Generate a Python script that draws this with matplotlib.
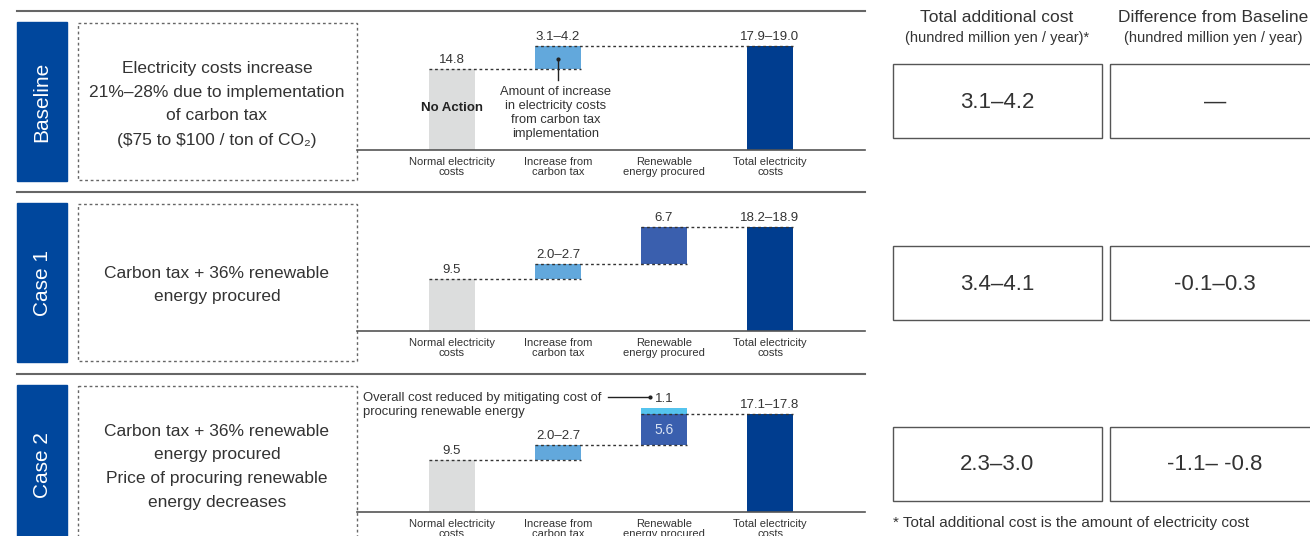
import matplotlib
matplotlib.use('Agg')
import matplotlib.pyplot as plt
from matplotlib.patches import Rectangle

plt.rcParams['font.family'] = ['Liberation Sans', 'DejaVu Sans']

# ---- datos ----
escenarios = ['Baseline', 'Case 1', 'Case 2']
descripciones = [
    'Electricity costs increase\n21%–28% due to implementation\nof carbon tax\n(\\$75 to \\$100 / ton of CO₂)',
    'Carbon tax + 36% renewable\nenergy procured',
    'Carbon tax + 36% renewable\nenergy procured\nPrice of procuring renewable\nenergy decreases',
]
categorias = ['Normal electricity\ncosts', 'Increase from\ncarbon tax',
              'Renewable\nenergy procured', 'Total electricity\ncosts']

costo_normal = [14.8, 9.5, 9.5]
impuesto_bajo = [3.1, 2.0, 2.0]
impuesto_alto = [4.2, 2.7, 2.7]
renovable_neto = [0.0, 6.7, 5.6]
renovable_ahorro = [0.0, 0.0, 1.1]
total_bajo = [17.9, 18.2, 17.1]
total_alto = [19.0, 18.9, 17.8]

costo_adicional = ['3.1–4.2', '3.4–4.1', '2.3–3.0']
diferencia = ['—', '-0.1–0.3', '-1.1– -0.8']

# ---- estilo ----
AZUL_ETIQ = '#00479D'
C_NORMAL = '#DCDDDD'
C_IMPUESTO = '#62A8DC'
C_RENOV = '#3A5FAE'
C_AHORRO = '#55C4EE'
C_TOTAL = '#003D8F'
TXT = '#333333'

W, H = 1310, 536
fig = plt.figure(figsize=(W / 100, H / 100), dpi=100)
lienzo = fig.add_axes([0, 0, 1, 1])
lienzo.set_xlim(0, W)
lienzo.set_ylim(H, 0)
lienzo.axis('off')

filas_top = [11, 192, 374]
filas_base = [150, 331, 512]
ancho = 0.434

for i, nombre in enumerate(escenarios):
    top = filas_top[i]
    base = filas_base[i]

    # linea superior de la fila
    lienzo.plot([17, 865], [top, top], color='#666666', lw=1.5)

    # etiqueta azul vertical
    y0 = top + 11
    lienzo.add_patch(Rectangle((17, y0), 50, 159, color=AZUL_ETIQ))
    lienzo.text(42, y0 + 80, nombre, rotation=90, color='white', fontsize=15,
                ha='center', va='center')

    # caja punteada con la descripcion
    lienzo.add_patch(Rectangle((78, y0 + 1), 279, 157, fill=False, ec='#666666',
                               lw=1, ls=(0, (2, 2))))
    lienzo.text(217, y0 + 82, descripciones[i], fontsize=12.5, color=TXT,
                ha='center', va='center', linespacing=1.75, multialignment='center')

    # tabla de la derecha
    by = [64, 246, 427][i]
    lienzo.add_patch(Rectangle((893, by), 209, 74, fill=False, ec='#555555', lw=1))
    lienzo.add_patch(Rectangle((1110, by), 210, 74, fill=False, ec='#555555', lw=1))
    lienzo.text(997, by + 38, costo_adicional[i], fontsize=16, color=TXT,
                ha='center', va='center')
    lienzo.text(1215, by + 38, diferencia[i], fontsize=16, color=TXT,
                ha='center', va='center')

    # grafico de cascada
    ax = fig.add_axes([357 / W, (H - base) / H, 508 / W, (base - top) / H])
    ax.set_facecolor('none')
    ax.set_xlim(-0.896, 3.896)
    ax.set_ylim(0, (base - top) / 5.5)
    for s in ['top', 'left', 'right']:
        ax.spines[s].set_visible(False)
    ax.spines['bottom'].set_color('#555555')
    ax.spines['bottom'].set_linewidth(1.2)
    ax.set_yticks([])
    ax.set_xticks(range(4))
    ax.set_xticklabels(categorias, fontsize=8, color=TXT, linespacing=0.95,
                       family=['Liberation Sans Narrow', 'Liberation Sans'])
    ax.tick_params(axis='x', length=0, pad=5)

    n = costo_normal[i]
    imp = impuesto_alto[i]
    ren = renovable_neto[i]
    aho = renovable_ahorro[i]

    ax.bar(0, n, width=ancho, color=C_NORMAL)
    ax.bar(1, imp, bottom=n, width=ancho, color=C_IMPUESTO)
    if ren > 0:
        ax.bar(2, ren, bottom=n + imp, width=ancho, color=C_RENOV)
    if aho > 0:
        ax.bar(2, aho, bottom=n + imp + ren, width=ancho, color=C_AHORRO)
    ax.bar(3, total_alto[i], width=ancho, color=C_TOTAL)

    # lineas punteadas entre barras
    posiciones = [0, 1] + ([2] if ren > 0 else []) + [3]
    niveles = [n, n + imp, n + imp + ren]
    for k in range(len(posiciones) - 1):
        a, b = posiciones[k], posiciones[k + 1]
        ax.plot([a - ancho / 2, b + ancho / 2], [niveles[k], niveles[k]],
                color='#333333', lw=1, ls=(0, (2, 2)))

    def etiqueta(x, y, txt):
        ax.annotate(txt, (x, y), xytext=(0, 2), textcoords='offset points',
                    ha='center', va='bottom', fontsize=9.5, color=TXT)

    etiqueta(0, n, f'{n:.1f}')
    etiqueta(1, n + imp, f'{impuesto_bajo[i]:.1f}–{imp:.1f}')
    if ren > 0 and aho == 0:
        etiqueta(2, n + imp + ren, f'{ren:.1f}')
    if aho > 0:
        etiqueta(2, n + imp + ren + aho, f'{aho:.1f}')
        ax.text(2, n + imp + ren / 2, f'{ren:.1f}', color='#D8E2F2', fontsize=10,
                ha='center', va='center')
    etiqueta(3, total_alto[i], f'{total_bajo[i]:.1f}–{total_alto[i]:.1f}')

# capa superior para las anotaciones
capa = fig.add_axes([0, 0, 1, 1])
capa.set_xlim(0, W)
capa.set_ylim(H, 0)
capa.axis('off')
capa.set_facecolor('none')

capa.text(452, 108, 'No Action', fontsize=9.5, fontweight='bold', color='#222222',
          ha='center', va='center')
capa.plot([558, 558], [59, 80], color='#222222', lw=1)
capa.plot([558], [59], marker='o', ms=2, color='#222222')
capa.text(556, 113, 'Amount of increase\nin electricity costs\nfrom carbon tax\nimplementation',
          fontsize=9.3, color=TXT, ha='center', va='center', linespacing=1.25)

capa.text(363, 405, 'Overall cost reduced by mitigating cost of\nprocuring renewable energy',
          fontsize=9.4, color=TXT, ha='left', va='center', linespacing=1.25)
capa.plot([608, 650], [397, 397], color='#222222', lw=1)
capa.plot([650], [397], marker='o', ms=2, color='#222222')

# encabezados de la tabla
capa.text(997, 17, 'Total additional cost', fontsize=12.5, color=TXT, ha='center', va='center')
capa.text(997, 38, '(hundred million yen / year)*', fontsize=10.5, color=TXT,
          ha='center', va='center')
capa.text(1213, 17, 'Difference from Baseline', fontsize=12.5, color=TXT, ha='center', va='center')
capa.text(1213, 38, '(hundred million yen / year)', fontsize=10.5, color=TXT,
          ha='center', va='center')

capa.text(893, 523, '* Total additional cost is the amount of electricity cost', fontsize=11,
          color=TXT, ha='left', va='center')

fig.savefig('out.png', dpi=100)
